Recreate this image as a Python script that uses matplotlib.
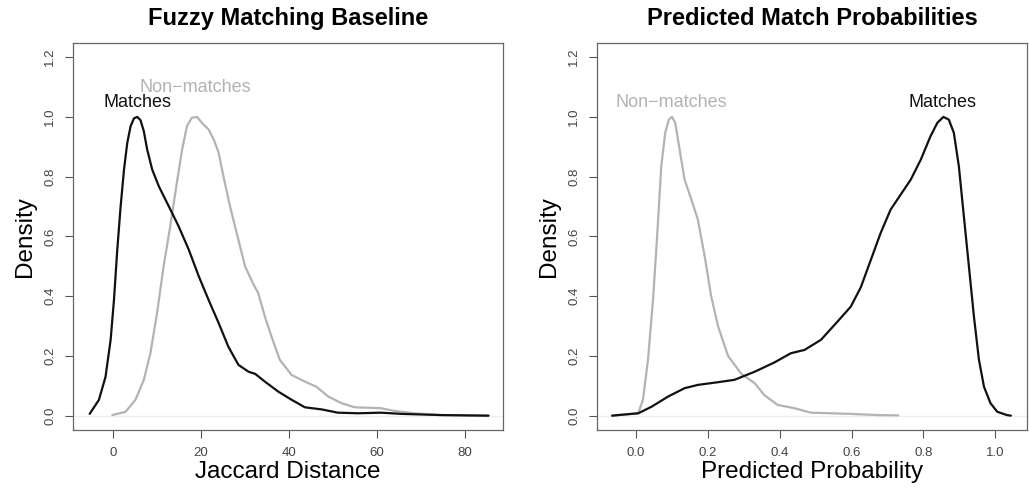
import matplotlib
matplotlib.use("Agg")
import matplotlib.pyplot as plt

plt.rcParams['font.family'] = ['Liberation Sans', 'DejaVu Sans']

# Left panel: Jaccard distance densities (scaled to max 1)
jac_match_x = [-5.3, -3.2, -1.7, -0.54, 0.22, 0.97, 1.73, 2.5, 3.24, 4.0, 4.75, 5.5, 6.25, 7.0,
               7.76, 8.9, 10.4, 12.7, 14.9, 17.2, 19.5, 21.7, 24.0, 26.2, 28.5, 30.8, 32.3,
               34.5, 37.6, 40.6, 43.6, 47.4, 51.1, 55.7, 60.9, 65.5, 74.5, 85.3]
jac_match_y = [0.006, 0.053, 0.13, 0.254, 0.388, 0.556, 0.70, 0.824, 0.913, 0.969, 0.995, 1.0,
               0.989, 0.952, 0.891, 0.824, 0.768, 0.70, 0.634, 0.556, 0.466, 0.388, 0.31, 0.231,
               0.17, 0.147, 0.14, 0.114, 0.08, 0.053, 0.028, 0.021, 0.010, 0.008, 0.010, 0.006,
               0.002, 0.0]
jac_non_x = [-0.15, 2.85, 5.1, 7.0, 8.5, 10.0, 11.5, 13.0, 14.5, 15.7, 16.8, 17.9, 19.1, 20.2,
             21.7, 22.9, 24.0, 25.1, 26.6, 28.1, 30.0, 31.9, 33.0, 34.5, 36.0, 37.9, 40.6,
             43.6, 46.2, 48.9, 51.9, 54.9, 60.9, 63.9, 68.5, 74.5, 85.3]
jac_non_y = [0.002, 0.013, 0.053, 0.12, 0.209, 0.343, 0.50, 0.634, 0.779, 0.891, 0.969, 0.997,
             1.0, 0.98, 0.958, 0.924, 0.88, 0.80, 0.70, 0.611, 0.50, 0.44, 0.41, 0.332, 0.265,
             0.187, 0.136, 0.114, 0.097, 0.064, 0.042, 0.028, 0.025, 0.016, 0.008, 0.002, 0.0]

# Right panel: predicted probability densities (scaled to max 1)
prob_non_x = [-0.067, 0.0056, 0.019, 0.033, 0.047, 0.059, 0.070, 0.081, 0.091, 0.100, 0.109,
              0.121, 0.135, 0.154, 0.172, 0.191, 0.209, 0.228, 0.256, 0.293, 0.33, 0.357,
              0.394, 0.441, 0.487, 0.543, 0.598, 0.672, 0.73]
prob_non_y = [0.0, 0.008, 0.053, 0.187, 0.388, 0.611, 0.835, 0.947, 0.991, 1.0, 0.98, 0.891,
              0.79, 0.723, 0.656, 0.533, 0.40, 0.30, 0.20, 0.14, 0.109, 0.069, 0.036, 0.025,
              0.010, 0.008, 0.006, 0.002, 0.001]
prob_match_x = [-0.067, -0.05, 0.006, 0.043, 0.089, 0.135, 0.172, 0.228, 0.274, 0.33, 0.385,
                0.431, 0.469, 0.515, 0.561, 0.598, 0.626, 0.654, 0.681, 0.709, 0.737, 0.765,
                0.793, 0.82, 0.839, 0.856, 0.871, 0.885, 0.899, 0.913, 0.927, 0.941, 0.955,
                0.969, 0.987, 1.006, 1.033, 1.044]
prob_match_y = [0.0, 0.002, 0.008, 0.03, 0.064, 0.092, 0.103, 0.112, 0.12, 0.147, 0.178,
                0.209, 0.22, 0.254, 0.315, 0.365, 0.43, 0.522, 0.611, 0.69, 0.74, 0.79,
                0.857, 0.935, 0.98, 1.0, 0.991, 0.947, 0.835, 0.667, 0.50, 0.332, 0.187,
                0.097, 0.042, 0.013, 0.002, 0.0]

GRIS = '#b3b3b3'
NEGRO = '#111111'


def preparar(ax, xlim, xticks, xticklabels, titulo, xlabel):
    ax.axhline(0, color='#eeeeee', linewidth=1, zorder=0)
    ax.set_xlim(*xlim)
    ax.set_ylim(-0.048, 1.248)
    ax.set_xticks(xticks)
    ax.set_xticklabels(xticklabels)
    ax.set_yticks([0.0, 0.2, 0.4, 0.6, 0.8, 1.0, 1.2])
    ax.set_yticklabels(['0.0', '0.2', '0.4', '0.6', '0.8', '1.0', '1.2'],
                       rotation=90, va='center')
    ax.tick_params(direction='out', length=6, width=0.8, color='#555555',
                   labelsize=9.5, labelcolor='#444444', pad=6)
    for s in ax.spines.values():
        s.set_color('#666666')
        s.set_linewidth(0.9)
    ax.set_title(titulo, fontsize=17, fontweight='bold', pad=13)
    ax.set_xlabel(xlabel, fontsize=17.5, labelpad=2)
    ax.set_ylabel('Density', fontsize=17.5, labelpad=6)


fig = plt.figure(figsize=(10.29, 4.92), dpi=100)
ax1 = fig.add_axes([0.0709, 0.126, 0.4179, 0.787])
ax2 = fig.add_axes([0.5802, 0.126, 0.4179, 0.787])

estilo = dict(linewidth=1.6, solid_joinstyle='round', solid_capstyle='round')

preparar(ax1, (-9.1, 88.6), [0, 20, 40, 60, 80], ['0', '20', '40', '60', '80'],
         'Fuzzy Matching Baseline', 'Jaccard Distance')
ax1.plot(jac_non_x, jac_non_y, color=GRIS, **estilo)
ax1.plot(jac_match_x, jac_match_y, color=NEGRO, **estilo)
ax1.text(5.5, 1.047, 'Matches', color=NEGRO, fontsize=13, ha='center', va='center')
ax1.text(18.7, 1.097, 'Non\u2212matches', color=GRIS, fontsize=13, ha='center', va='center')

preparar(ax2, (-0.109, 1.089), [0.0, 0.2, 0.4, 0.6, 0.8, 1.0],
         ['0.0', '0.2', '0.4', '0.6', '0.8', '1.0'],
         'Predicted Match Probabilities', 'Predicted Probability')
ax2.plot(prob_non_x, prob_non_y, color=GRIS, **estilo)
ax2.plot(prob_match_x, prob_match_y, color=NEGRO, **estilo)
ax2.text(0.098, 1.047, 'Non\u2212matches', color=GRIS, fontsize=13, ha='center', va='center')
ax2.text(0.853, 1.047, 'Matches', color=NEGRO, fontsize=13, ha='center', va='center')

plt.savefig('out.png', dpi=100)
